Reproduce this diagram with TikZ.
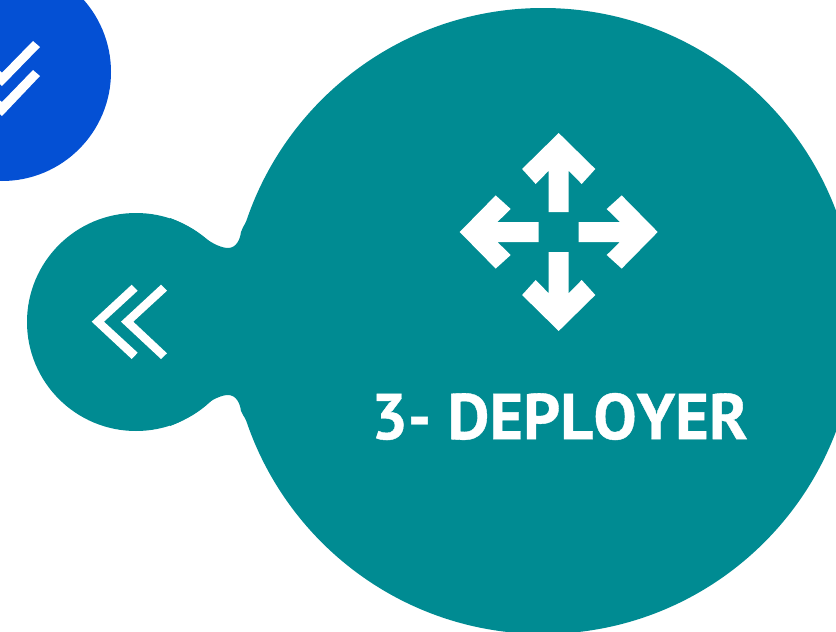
\documentclass[tikz,border=0pt]{standalone}
\usepackage{fontspec}
\setmainfont{PT Sans}[RawFeature={-kern},BoldFeatures={FakeBold=0.6}]
\definecolor{tealbg}{HTML}{008B92}
\definecolor{bluebg}{HTML}{0450D4}
\tikzset{
  tealshape/.style={fill=tealbg,draw=none},
  blueshape/.style={fill=bluebg,draw=none},
  glyph/.style={fill=white,draw=none},
  title/.style={text=white,font=\fontsize{64.7}{65}\selectfont\bfseries,inner sep=0pt}
}
\begin{document}
\begin{tikzpicture}[x=1pt,y=-1pt]
\useasboundingbox (0,0) rectangle (836,632);
\begin{scope}
\clip (0,0) rectangle (836,632);
% blue circle with checks
\fill[blueshape] (2,72) circle[radius=109];
\fill[glyph] (33,41) -- (40,47) -- (2,86) -- (-12,72) -- (-6,66) -- (2,72.7) -- cycle;
\fill[glyph] (33,70) -- (40,76) -- (2,116) -- (-12,102) -- (-6,96) -- (2,102) -- cycle;
% teal blob
\fill[tealshape] (543,321) circle[radius=313];
\fill[tealshape] (136,322) circle[radius=109];
\fill[tealshape] (170,218) .. controls (186,224) and (196,231) .. (205,238)
  .. controls (213,244) and (222,248) .. (228,248)
  .. controls (236,248) and (240,240) .. (241,232)
  .. controls (242,228) and (244,226) .. (246.5,221)
  -- (290,321) -- (246.5,421)
  .. controls (244,416) and (242,414) .. (241,411)
  .. controls (240,403) and (236,395) .. (228,395)
  .. controls (222,395) and (213,399) .. (205,405)
  .. controls (196,412) and (186,420) .. (170,426) -- cycle;
% double chevron
\fill[glyph] (131.7,284.7) -- (137.7,290.7) -- (104,321.7) -- (137.7,352.7) -- (131.7,359) -- (91.7,321.7) -- cycle;
\fill[glyph] (161,284.7) -- (167,290.7) -- (133.3,321.7) -- (167,353.3) -- (161,359) -- (121,321.7) -- cycle;
% four arrows
\foreach \a in {0,90,180,270}{
  \begin{scope}[shift={(558.7,232)},rotate=\a]
    \fill[glyph] (0,-99) -- (36.6,-63) -- (23,-48) -- (10,-61.3) -- (10,-20) -- (-10,-20) -- (-10,-61.3) -- (-23,-48) -- (-36.6,-63) -- cycle;
  \end{scope}
}
\node[title] (label) at (559.5,416.5) {3- DEPLOYER};
\end{scope}
\end{tikzpicture}
\end{document}
